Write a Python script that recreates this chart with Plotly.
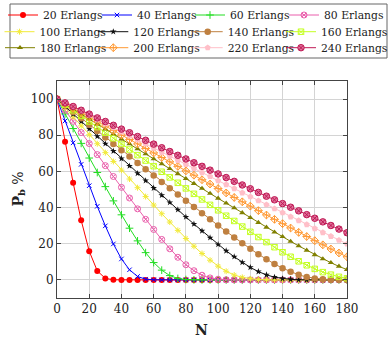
import plotly.graph_objects as go

# Number of channels N
channels = [0, 5, 10, 15, 20, 25, 30, 35, 40, 45, 50, 55, 60, 65, 70, 75, 80, 85, 90,
            95, 100, 105, 110, 115, 120, 125, 130, 135, 140, 145, 150, 155, 160, 165,
            170, 175, 180]

# Blocking probability Pb (%) for each offered traffic
erl_20 = [100, 76.4, 53.8, 33.0, 15.9, 5.0, 0.85, 0.07, 0, 0, 0, 0, 0, 0, 0, 0, 0, 0, 0,
          0, 0, 0, 0, 0, 0, 0, 0, 0, 0, 0, 0, 0, 0, 0, 0, 0, 0]
erl_40 = [100, 87.9, 75.8, 63.9, 52.1, 40.7, 29.9, 19.9, 11.6, 5.6, 1.9, 0.4, 0.07, 0, 0,
          0, 0, 0, 0, 0, 0, 0, 0, 0, 0, 0, 0, 0, 0, 0, 0, 0, 0, 0, 0, 0, 0]
erl_60 = [100, 91.8, 83.7, 75.5, 67.4, 59.4, 51.6, 43.7, 36.0, 28.6, 21.6, 15.1, 9.6, 5.4,
          2.4, 0.8, 0.2, 0.05, 0, 0, 0, 0, 0, 0, 0, 0, 0, 0, 0, 0, 0, 0, 0, 0, 0, 0, 0]
erl_80 = [100, 93.8, 87.7, 81.5, 75.4, 69.3, 63.2, 57.2, 51.2, 45.3, 39.3, 33.5, 27.9, 22.4,
          17.2, 12.5, 8.4, 5.1, 2.6, 1.1, 0.4, 0.1, 0.03, 0, 0, 0, 0, 0, 0, 0, 0, 0, 0, 0,
          0, 0, 0]
erl_100 = [100, 95.1, 90.1, 85.2, 80.3, 75.3, 70.4, 65.5, 60.7, 55.8, 51.0, 46.1, 41.4,
           36.6, 32.0, 27.4, 22.9, 18.6, 14.6, 10.9, 7.6, 4.8, 2.7, 1.4, 0.6, 0.2, 0.06,
           0, 0, 0, 0, 0, 0, 0, 0, 0, 0]
erl_120 = [100, 95.9, 91.7, 87.6, 83.5, 79.4, 75.3, 71.2, 67.1, 63.0, 58.9, 54.9, 50.8,
           46.8, 42.8, 38.8, 34.8, 30.9, 27.1, 23.3, 19.6, 16.1, 12.8, 9.7, 6.9, 4.6, 2.8,
           1.5, 0.7, 0.3, 0.1, 0.03, 0, 0, 0, 0, 0]
erl_140 = [100, 96.5, 92.9, 89.4, 85.8, 82.3, 78.8, 75.2, 71.7, 68.2, 64.7, 61.2, 57.7,
           54.2, 50.7, 47.2, 43.8, 40.3, 36.9, 33.5, 30.1, 26.8, 23.5, 20.3, 17.2, 14.2,
           11.4, 8.8, 6.5, 4.5, 2.8, 1.6, 0.8, 0.4, 0.15, 0.05, 0.02]
erl_160 = [100, 96.9, 93.8, 90.7, 87.6, 84.5, 81.4, 78.3, 75.2, 72.1, 69.0, 66.0, 62.9,
           59.8, 56.7, 53.7, 50.6, 47.6, 44.5, 41.5, 38.5, 35.5, 32.6, 29.5, 26.6, 23.7,
           20.9, 18.1, 15.3, 12.8, 10.3, 8.1, 6.1, 4.3, 2.9, 1.7, 0.9]
erl_180 = [100, 97.2, 94.5, 91.7, 89.0, 86.2, 83.4, 80.7, 77.9, 75.2, 72.4, 69.7, 66.9,
           64.2, 61.5, 58.7, 56.0, 53.3, 50.6, 47.8, 45.1, 42.4, 39.8, 37.1, 34.4, 31.7,
           29.1, 26.4, 23.9, 21.3, 18.8, 16.4, 13.9, 11.6, 9.5, 7.5, 5.7]
erl_200 = [100, 97.5, 95.0, 92.5, 90.1, 87.6, 85.1, 82.6, 80.1, 77.6, 75.2, 72.7, 70.2,
           67.7, 65.3, 62.8, 60.3, 57.9, 55.4, 53.0, 50.5, 48.1, 45.6, 43.2, 40.8, 38.3,
           35.9, 33.5, 31.1, 28.7, 26.3, 24.0, 21.7, 19.4, 17.1, 14.9, 12.8]
erl_220 = [100, 97.7, 95.5, 93.2, 91.0, 88.7, 86.4, 84.2, 81.9, 79.7, 77.4, 75.2, 72.9,
           70.6, 68.4, 66.1, 63.9, 61.7, 59.4, 57.2, 54.9, 52.7, 50.5, 48.2, 46.0, 43.8,
           41.6, 39.4, 37.2, 34.9, 32.8, 30.6, 28.4, 26.2, 24.1, 22.0, 19.9]
erl_240 = [100, 97.9, 95.9, 93.8, 91.7, 89.6, 87.6, 85.5, 83.4, 81.4, 79.3, 77.2, 75.1,
           73.1, 71.0, 68.9, 66.9, 64.8, 62.8, 60.7, 58.6, 56.6, 54.5, 52.5, 50.4, 48.4,
           46.3, 44.3, 42.2, 40.2, 38.2, 36.1, 34.1, 32.1, 30.1, 28.1, 26.1]

series_names = ["20 Erlangs", "40 Erlangs", "60 Erlangs", "80 Erlangs",
                "100 Erlangs", "120 Erlangs", "140 Erlangs", "160 Erlangs",
                "180 Erlangs", "200 Erlangs", "220 Erlangs", "240 Erlangs"]
series_values = [erl_20, erl_40, erl_60, erl_80, erl_100, erl_120,
                 erl_140, erl_160, erl_180, erl_200, erl_220, erl_240]

# styles: (line colour, marker symbol, marker fill, marker size)
styles = [
    ("#ff0000", "circle", "#ff0000", 6),
    ("#0000ff", "x-thin-open", "#0000ff", 4.5),
    ("#22dd22", "cross-thin-open", "#22dd22", 5.5),
    ("#ea5fac", "circle-x-open", "#ea5fac", 6),
    ("#f2ea3a", "asterisk-open", "#f2ea3a", 5),
    ("#111111", "star", "#111111", 5),
    ("#bf8040", "circle", "#bf8040", 6.5),
    ("#c4ff22", "square-x-open", "#c4ff22", 5.5),
    ("#808000", "triangle-up", "#808000", 5.5),
    ("#ff9933", "diamond-cross-open", "#ff9933", 6),
    ("#ffbfc8", "pentagon", "#ffbfc8", 6.5),
    ("#bf1a55", "circle-x", "#e0709a", 6.5),
]

SERIF = "DejaVu Serif"

# plot area in pixels
L, R, T, B = 57, 41, 81, 39
W, H = 388, 337
pw, ph = W - L - R, H - T - B

def px_to_paper_x(px):
    return (px - L) / pw

def px_to_paper_y(py):
    return (H - B - py) / ph

fig = go.Figure()

legend_text_x = [[43, 137, 230, 324], [39.5, 133.3, 227.7, 321], [40, 133.3, 227.7, 321]]
legend_row_y = [15, 31.7, 47.7]

layout_legends = {}
for i, (name, vals, st) in enumerate(zip(series_names, series_values, styles)):
    col, row = i % 4, i // 4
    lname = "legend" if i == 0 else f"legend{i + 1}"
    color, sym, fill, size = st
    if sym.endswith("-open"):
        marker = dict(symbol=sym, size=size, color=color, line=dict(color=color, width=1))
    elif sym == "circle-x":
        marker = dict(symbol=sym, size=size, color=fill, line=dict(color=color, width=1))
    else:
        marker = dict(symbol=sym, size=size, color=fill, line=dict(width=0))
    fig.add_trace(go.Scatter(
        x=channels, y=vals, mode="lines+markers", name=name,
        line=dict(color=color, width=1), marker=marker,
        legend=lname, showlegend=True,
    ))
    layout_legends[lname] = dict(
        x=px_to_paper_x(legend_text_x[row][col] - 40),
        y=px_to_paper_y(legend_row_y[row]),
        xanchor="left", yanchor="middle",
        bgcolor="rgba(0,0,0,0)", borderwidth=0,
        font=dict(family=SERIF, size=10.8, color="#222"),
        itemwidth=30,
    )

axis_font = dict(family=SERIF, size=12, color="#222")

fig.update_layout(
    width=W, height=H,
    margin=dict(l=L, r=R, t=T, b=B, autoexpand=False),
    paper_bgcolor="white", plot_bgcolor="white",
    font=dict(family=SERIF, color="#222"),
    xaxis=dict(range=[0, 180], tickvals=[0, 20, 40, 60, 80, 100, 120, 140, 160, 180],
               showgrid=True, gridcolor="#d4d4d4", gridwidth=1,
               showline=True, linecolor="#444", linewidth=1, mirror="ticks",
               ticks="inside", ticklen=4, tickcolor="#444",
               zeroline=False, tickfont=axis_font),
    yaxis=dict(range=[-10, 110], tickvals=[0, 20, 40, 60, 80, 100],
               showgrid=True, gridcolor="#d4d4d4", gridwidth=1,
               showline=True, linecolor="#444", linewidth=1, mirror="ticks",
               ticks="inside", ticklen=4, tickcolor="#444",
               zeroline=False, tickfont=axis_font),
    shapes=[dict(type="rect", xref="paper", yref="paper",
                 x0=px_to_paper_x(10), x1=px_to_paper_x(387),
                 y0=px_to_paper_y(58), y1=px_to_paper_y(4),
                 line=dict(color="#666", width=1), fillcolor="rgba(0,0,0,0)")],
    annotations=[
        dict(text="<b>N</b>", xref="paper", yref="paper",
             x=px_to_paper_x(201), y=px_to_paper_y(330),
             showarrow=False, font=dict(family=SERIF, size=14, color="#222"),
             xanchor="center", yanchor="middle"),
        dict(text="<b>P<sub>b</sub></b> %", xref="paper", yref="paper",
             x=px_to_paper_x(18), y=0.5, textangle=-90,
             showarrow=False, font=dict(family=SERIF, size=14, color="#222"),
             xanchor="center", yanchor="middle"),
    ],
    **layout_legends,
)

fig.write_html("out.html")
